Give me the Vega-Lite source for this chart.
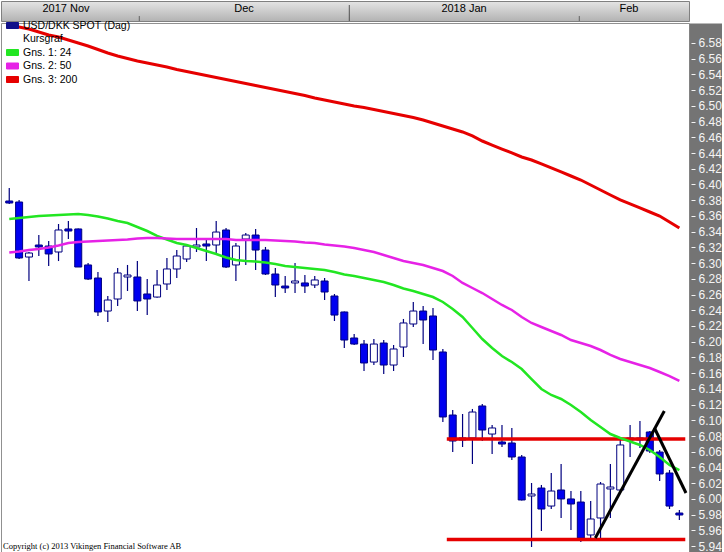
{
  "$schema": "https://vega.github.io/schema/vega-lite/v6.json",
  "padding": 0,
  "background": "#ffffff",
  "spacing": 0,
  "config": {
    "font": "Liberation Sans",
    "view": {"stroke": null}
  },
  "datasets": {
    "candles": [
      {"i":0,"date":"2017-11-13","open":6.3790,"high":6.3955,"low":6.3752,"close":6.3764,"ma24":6.3561,"ma50":6.3135,"ma200":6.6042},
      {"i":1,"date":"2017-11-14","open":6.3777,"high":6.3803,"low":6.3052,"close":6.3065,"ma24":6.3574,"ma50":6.3147,"ma200":6.6004},
      {"i":2,"date":"2017-11-15","open":6.3077,"high":6.3141,"low":6.2772,"close":6.3128,"ma24":6.3586,"ma50":6.3166,"ma200":6.5978},
      {"i":3,"date":"2017-11-16","open":6.3230,"high":6.3357,"low":6.3090,"close":6.3205,"ma24":6.3599,"ma50":6.3179,"ma200":6.5940},
      {"i":4,"date":"2017-11-17","open":6.3217,"high":6.3281,"low":6.2963,"close":6.3116,"ma24":6.3605,"ma50":6.3198,"ma200":6.5902},
      {"i":5,"date":"2017-11-20","open":6.3141,"high":6.3497,"low":6.3026,"close":6.3421,"ma24":6.3612,"ma50":6.3224,"ma200":6.5876},
      {"i":6,"date":"2017-11-21","open":6.3434,"high":6.3535,"low":6.3306,"close":6.3408,"ma24":6.3618,"ma50":6.3256,"ma200":6.5838},
      {"i":7,"date":"2017-11-22","open":6.3434,"high":6.3440,"low":6.2950,"close":6.2950,"ma24":6.3624,"ma50":6.3268,"ma200":6.5800},
      {"i":8,"date":"2017-11-23","open":6.2976,"high":6.3001,"low":6.2785,"close":6.2797,"ma24":6.3612,"ma50":6.3275,"ma200":6.5762},
      {"i":9,"date":"2017-11-24","open":6.2810,"high":6.2887,"low":6.2327,"close":6.2378,"ma24":6.3593,"ma50":6.3281,"ma200":6.5717},
      {"i":10,"date":"2017-11-27","open":6.2390,"high":6.2581,"low":6.2250,"close":6.2530,"ma24":6.3567,"ma50":6.3287,"ma200":6.5673},
      {"i":11,"date":"2017-11-28","open":6.2543,"high":6.2937,"low":6.2454,"close":6.2874,"ma24":6.3535,"ma50":6.3294,"ma200":6.5635},
      {"i":12,"date":"2017-11-29","open":6.2823,"high":6.2976,"low":6.2645,"close":6.2848,"ma24":6.3510,"ma50":6.3300,"ma200":6.5603},
      {"i":13,"date":"2017-11-30","open":6.2823,"high":6.3026,"low":6.2390,"close":6.2518,"ma24":6.3459,"ma50":6.3313,"ma200":6.5571},
      {"i":14,"date":"2017-12-01","open":6.2607,"high":6.2797,"low":6.2339,"close":6.2543,"ma24":6.3408,"ma50":6.3319,"ma200":6.5546},
      {"i":15,"date":"2017-12-04","open":6.2568,"high":6.2912,"low":6.2560,"close":6.2721,"ma24":6.3345,"ma50":6.3319,"ma200":6.5520},
      {"i":16,"date":"2017-12-05","open":6.2734,"high":6.3065,"low":6.2657,"close":6.2925,"ma24":6.3300,"ma50":6.3313,"ma200":6.5495},
      {"i":17,"date":"2017-12-06","open":6.2925,"high":6.3166,"low":6.2810,"close":6.3090,"ma24":6.3256,"ma50":6.3306,"ma200":6.5463},
      {"i":18,"date":"2017-12-07","open":6.3052,"high":6.3225,"low":6.3014,"close":6.3217,"ma24":6.3230,"ma50":6.3306,"ma200":6.5437},
      {"i":19,"date":"2017-12-08","open":6.3205,"high":6.3446,"low":6.3141,"close":6.3230,"ma24":6.3192,"ma50":6.3306,"ma200":6.5412},
      {"i":20,"date":"2017-12-11","open":6.3243,"high":6.3294,"low":6.3026,"close":6.3217,"ma24":6.3154,"ma50":6.3306,"ma200":6.5387},
      {"i":21,"date":"2017-12-12","open":6.3230,"high":6.3535,"low":6.3128,"close":6.3395,"ma24":6.3116,"ma50":6.3306,"ma200":6.5361},
      {"i":22,"date":"2017-12-13","open":6.3421,"high":6.3446,"low":6.2937,"close":6.2950,"ma24":6.3071,"ma50":6.3306,"ma200":6.5336},
      {"i":23,"date":"2017-12-14","open":6.2976,"high":6.3256,"low":6.2772,"close":6.3217,"ma24":6.3039,"ma50":6.3294,"ma200":6.5310},
      {"i":24,"date":"2017-12-15","open":6.3306,"high":6.3383,"low":6.2976,"close":6.3357,"ma24":6.3026,"ma50":6.3294,"ma200":6.5285},
      {"i":25,"date":"2017-12-18","open":6.3357,"high":6.3434,"low":6.2912,"close":6.3166,"ma24":6.3020,"ma50":6.3294,"ma200":6.5259},
      {"i":26,"date":"2017-12-19","open":6.3166,"high":6.3205,"low":6.2848,"close":6.2861,"ma24":6.3007,"ma50":6.3294,"ma200":6.5234},
      {"i":27,"date":"2017-12-20","open":6.2861,"high":6.2937,"low":6.2568,"close":6.2721,"ma24":6.2988,"ma50":6.3287,"ma200":6.5208},
      {"i":28,"date":"2017-12-21","open":6.2708,"high":6.2836,"low":6.2619,"close":6.2683,"ma24":6.2963,"ma50":6.3281,"ma200":6.5183},
      {"i":29,"date":"2017-12-22","open":6.2747,"high":6.3001,"low":6.2619,"close":6.2772,"ma24":6.2950,"ma50":6.3275,"ma200":6.5158},
      {"i":30,"date":"2017-12-25","open":6.2747,"high":6.2848,"low":6.2619,"close":6.2708,"ma24":6.2937,"ma50":6.3262,"ma200":6.5132},
      {"i":31,"date":"2017-12-26","open":6.2721,"high":6.2836,"low":6.2683,"close":6.2785,"ma24":6.2925,"ma50":6.3256,"ma200":6.5100},
      {"i":32,"date":"2017-12-27","open":6.2772,"high":6.2810,"low":6.2530,"close":6.2632,"ma24":6.2912,"ma50":6.3236,"ma200":6.5075},
      {"i":33,"date":"2017-12-28","open":6.2581,"high":6.2607,"low":6.2263,"close":6.2339,"ma24":6.2887,"ma50":6.3224,"ma200":6.5049},
      {"i":34,"date":"2017-12-29","open":6.2378,"high":6.2385,"low":6.1920,"close":6.2021,"ma24":6.2855,"ma50":6.3211,"ma200":6.5024},
      {"i":35,"date":"2018-01-01","open":6.2047,"high":6.2098,"low":6.1958,"close":6.1970,"ma24":6.2836,"ma50":6.3192,"ma200":6.4998},
      {"i":36,"date":"2018-01-02","open":6.1970,"high":6.2021,"low":6.1627,"close":6.1729,"ma24":6.2810,"ma50":6.3166,"ma200":6.4979},
      {"i":37,"date":"2018-01-03","open":6.1741,"high":6.2034,"low":6.1703,"close":6.1970,"ma24":6.2785,"ma50":6.3141,"ma200":6.4954},
      {"i":38,"date":"2018-01-04","open":6.1983,"high":6.2021,"low":6.1589,"close":6.1703,"ma24":6.2759,"ma50":6.3103,"ma200":6.4928},
      {"i":39,"date":"2018-01-05","open":6.1703,"high":6.1958,"low":6.1627,"close":6.1907,"ma24":6.2721,"ma50":6.3065,"ma200":6.4903},
      {"i":40,"date":"2018-01-08","open":6.1932,"high":6.2289,"low":6.1805,"close":6.2238,"ma24":6.2677,"ma50":6.3026,"ma200":6.4878},
      {"i":41,"date":"2018-01-09","open":6.2225,"high":6.2505,"low":6.2187,"close":6.2390,"ma24":6.2645,"ma50":6.3001,"ma200":6.4852},
      {"i":42,"date":"2018-01-10","open":6.2390,"high":6.2454,"low":6.1970,"close":6.2276,"ma24":6.2607,"ma50":6.2976,"ma200":6.4820},
      {"i":43,"date":"2018-01-11","open":6.2327,"high":6.2428,"low":6.1767,"close":6.1894,"ma24":6.2568,"ma50":6.2937,"ma200":6.4782},
      {"i":44,"date":"2018-01-12","open":6.1869,"high":6.1907,"low":6.0978,"close":6.1042,"ma24":6.2505,"ma50":6.2899,"ma200":6.4744},
      {"i":45,"date":"2018-01-15","open":6.1067,"high":6.1131,"low":6.0596,"close":6.0736,"ma24":6.2416,"ma50":6.2836,"ma200":6.4706},
      {"i":46,"date":"2018-01-16","open":6.0749,"high":6.1080,"low":6.0660,"close":6.0775,"ma24":6.2314,"ma50":6.2747,"ma200":6.4668},
      {"i":47,"date":"2018-01-17","open":6.0775,"high":6.1144,"low":6.0444,"close":6.1105,"ma24":6.2174,"ma50":6.2683,"ma200":6.4617},
      {"i":48,"date":"2018-01-18","open":6.1182,"high":6.1207,"low":6.0736,"close":6.0876,"ma24":6.2034,"ma50":6.2619,"ma200":6.4553},
      {"i":49,"date":"2018-01-19","open":6.0825,"high":6.0940,"low":6.0571,"close":6.0902,"ma24":6.1920,"ma50":6.2543,"ma200":6.4502},
      {"i":50,"date":"2018-01-22","open":6.0724,"high":6.0940,"low":6.0660,"close":6.0698,"ma24":6.1818,"ma50":6.2467,"ma200":6.4451},
      {"i":51,"date":"2018-01-23","open":6.0711,"high":6.0902,"low":6.0495,"close":6.0533,"ma24":6.1741,"ma50":6.2403,"ma200":6.4401},
      {"i":52,"date":"2018-01-24","open":6.0533,"high":6.0558,"low":5.9980,"close":5.9986,"ma24":6.1652,"ma50":6.2314,"ma200":6.4350},
      {"i":53,"date":"2018-01-25","open":6.0037,"high":6.0202,"low":5.9388,"close":6.0062,"ma24":6.1525,"ma50":6.2238,"ma200":6.4311},
      {"i":54,"date":"2018-01-26","open":6.0138,"high":6.0177,"low":5.9591,"close":5.9871,"ma24":6.1398,"ma50":6.2187,"ma200":6.4261},
      {"i":55,"date":"2018-01-29","open":5.9909,"high":6.0329,"low":5.9871,"close":6.0100,"ma24":6.1322,"ma50":6.2136,"ma200":6.4210},
      {"i":56,"date":"2018-01-30","open":6.0113,"high":6.0444,"low":5.9757,"close":5.9999,"ma24":6.1271,"ma50":6.2085,"ma200":6.4159},
      {"i":57,"date":"2018-01-31","open":5.9999,"high":6.0100,"low":5.9604,"close":5.9935,"ma24":6.1194,"ma50":6.2021,"ma200":6.4108},
      {"i":58,"date":"2018-02-01","open":5.9960,"high":6.0100,"low":5.9451,"close":5.9502,"ma24":6.1105,"ma50":6.1983,"ma200":6.4057},
      {"i":59,"date":"2018-02-02","open":5.9541,"high":5.9973,"low":5.9502,"close":5.9744,"ma24":6.1004,"ma50":6.1945,"ma200":6.3993},
      {"i":60,"date":"2018-02-05","open":5.9757,"high":6.0215,"low":5.9502,"close":6.0189,"ma24":6.0914,"ma50":6.1894,"ma200":6.3930},
      {"i":61,"date":"2018-02-06","open":6.0126,"high":6.0444,"low":5.9757,"close":6.0151,"ma24":6.0825,"ma50":6.1831,"ma200":6.3866},
      {"i":62,"date":"2018-02-07","open":6.0113,"high":6.0762,"low":6.0105,"close":6.0686,"ma24":6.0775,"ma50":6.1780,"ma200":6.3803},
      {"i":63,"date":"2018-02-08","open":6.0749,"high":6.0940,"low":6.0533,"close":6.0775,"ma24":6.0730,"ma50":6.1741,"ma200":6.3752},
      {"i":64,"date":"2018-02-09","open":6.0749,"high":6.0991,"low":6.0647,"close":6.0775,"ma24":6.0686,"ma50":6.1703,"ma200":6.3701},
      {"i":65,"date":"2018-02-12","open":6.0851,"high":6.0864,"low":6.0584,"close":6.0609,"ma24":6.0622,"ma50":6.1665,"ma200":6.3650},
      {"i":66,"date":"2018-02-13","open":6.0596,"high":6.0622,"low":6.0228,"close":6.0317,"ma24":6.0533,"ma50":6.1614,"ma200":6.3599},
      {"i":67,"date":"2018-02-14","open":6.0329,"high":6.0367,"low":5.9871,"close":5.9909,"ma24":6.0431,"ma50":6.1563,"ma200":6.3523},
      {"i":68,"date":"2018-02-15","open":5.9820,"high":5.9859,"low":5.9731,"close":5.9795,"ma24":6.0367,"ma50":6.1500,"ma200":6.3446}
    ],
    "levels": [
      {"start": 44.4, "end": 68.6, "v": 6.0762},
      {"start": 44.4, "end": 68.6, "v": 5.9483}
    ],
    "trend": [
      {"line": "a", "i": 59.47, "v": 5.9502},
      {"line": "a", "i": 66.47, "v": 6.1118},
      {"line": "b", "i": 65.47, "v": 6.0902},
      {"line": "b", "i": 68.67, "v": 6.0075}
    ],
    "months": [
      {"label": "2017 Nov", "i": 6.17},
      {"label": "Dec", "i": 23.97},
      {"label": "2018 Jan", "i": 45.97},
      {"label": "Feb", "i": 62.47}
    ],
    "seps": [
      {"i": 13.5, "kind": "month"},
      {"i": 34.5, "kind": "year"},
      {"i": 57.5, "kind": "month"}
    ]
  },
  "vconcat": [
    {
      "width": 688,
      "height": 20,
      "view": {
        "fill": {"gradient": "linear", "x1": 0, "y1": 0, "x2": 0, "y2": 1,
                 "stops": [{"offset": 0, "color": "#e4e4e4"}, {"offset": 1, "color": "#b2b2b2"}]},
        "stroke": "#808080"
      },
      "encoding": {
        "x": {"field": "i", "type": "quantitative", "scale": {"domain": [-0.33, 68.47], "nice": false, "zero": false}, "axis": null}
      },
      "layer": [
        {
          "data": {"name": "months"},
          "mark": {"type": "text", "fontSize": 11, "font": "Liberation Sans", "color": "#000000", "baseline": "middle", "dy": -2},
          "encoding": {"text": {"field": "label"}}
        },
        {
          "data": {"name": "seps"},
          "transform": [{"filter": "datum.kind === 'month'"}],
          "mark": {"type": "tick", "orient": "vertical", "size": 5, "thickness": 1, "color": "#404040", "yOffset": 7.5}
        },
        {
          "data": {"name": "seps"},
          "transform": [{"filter": "datum.kind === 'year'"}],
          "mark": {"type": "tick", "orient": "vertical", "size": 16, "thickness": 1, "color": "#202020", "yOffset": 2}
        }
      ]
    },
    {
      "width": 688,
      "height": 532,
      "view": {"fill": "white", "stroke": "#909090"},
      "title": {"text": "Copyright (c) 2013 Vikingen Financial Software AB", "orient": "bottom", "anchor": "start", "offset": -6, "fontSize": 8.5, "font": "Liberation Serif", "fontWeight": "normal", "color": "#000000", "baseline": "alphabetic", "dx": 2},
      "resolve": {"scale": {"y": "shared"}, "axis": {"y": "independent"}},
      "encoding": {
        "x": {"field": "i", "type": "quantitative", "scale": {"domain": [-0.33, 68.47], "nice": false, "zero": false}, "axis": null}
      },
      "layer": [
        {
          "data": {"name": "candles"},
          "mark": {"type": "rule", "color": "#00007f", "strokeWidth": 1.2, "clip": true},
          "encoding": {
            "y": {"field": "low", "type": "quantitative", "title": null,
                  "scale": {"domain": [5.928601, 6.605445], "nice": false, "zero": false},
                  "axis": {"orient": "right", "title": null, "labels": false, "ticks": false, "grid": false,
                           "domain": true, "domainColor": "#747474", "domainWidth": 36, "domainCap": "butt", "offset": 18, "zindex": 0}},
            "y2": {"field": "high"}
          }
        },
        {
          "data": {"name": "candles"},
          "mark": {"type": "bar", "width": 7, "stroke": "#00007f", "strokeWidth": 1, "clip": true},
          "encoding": {
            "y": {"field": "open", "type": "quantitative", "title": null,
                  "axis": {"orient": "right", "values": [5.94,5.96,5.98,6.00,6.02,6.04,6.06,6.08,6.10,6.12,6.14,6.16,6.18,6.20,6.22,6.24,6.26,6.28,6.30,6.32,6.34,6.36,6.38,6.40,6.42,6.44,6.46,6.48,6.50,6.52,6.54,6.56,6.58],
                           "format": ".2f", "title": null, "labelOverlap": false, "labelSeparation": 0, "labelBound": false, "labelFlush": false,
                           "domain": false, "grid": false, "ticks": true, "tickSize": 4, "tickColor": "#f4f4f4", "tickWidth": 1, "offset": 2, "labelPadding": 3,
                           "labelColor": "#f4f4f4", "labelFont": "Liberation Sans", "labelFontSize": 12, "labelBaseline": "middle", "zindex": 1}},
            "y2": {"field": "close"},
            "fill": {"condition": {"test": "datum.close < datum.open", "value": "#0000f0"}, "value": "#ffffff"}
          }
        },
        {
          "data": {"name": "levels"},
          "mark": {"type": "rule", "color": "#e60000", "strokeWidth": 3.5, "clip": true},
          "encoding": {
            "x": {"field": "start", "type": "quantitative"},
            "x2": {"field": "end"},
            "y": {"field": "v", "type": "quantitative", "axis": null}
          }
        },
        {
          "data": {"name": "candles"},
          "mark": {"type": "line", "strokeWidth": 2.5, "clip": true},
          "encoding": {
            "y": {"field": "ma24", "type": "quantitative", "axis": null},
            "color": {"datum": "Gns. 1: 24", "type": "nominal",
                      "scale": {"domain": ["USD/DKK SPOT (Dag)", "Kursgraf", "Gns. 1: 24", "Gns. 2: 50", "Gns. 3: 200"],
                                "range": ["#10108a", "transparent", "#22e622", "#e622e6", "#e60000"]},
                      "legend": {"orient": "none", "legendX": 5, "legendY": 18, "title": null, "padding": 0,
                                 "symbolType": "M-1,-0.5H1V0.5H-1Z", "symbolSize": 144, "labelOffset": 4,
                                 "labelFont": "Liberation Sans", "labelFontSize": 10.5, "labelColor": "#000000", "rowPadding": 1.5,
                                 "encode": {"symbols": {"update": {
                                   "fill": {"scale": "color", "field": "value"},
                                   "stroke": {"signal": "datum.value === 'Kursgraf' ? 'transparent' : '#000000'"},
                                   "strokeWidth": {"value": 1},
                                   "opacity": {"value": 1}}}}}}
          }
        },
        {
          "data": {"name": "candles"},
          "mark": {"type": "line", "strokeWidth": 2.5, "clip": true},
          "encoding": {
            "y": {"field": "ma50", "type": "quantitative", "axis": null},
            "color": {"datum": "Gns. 2: 50", "type": "nominal"}
          }
        },
        {
          "data": {"name": "candles"},
          "mark": {"type": "line", "strokeWidth": 3, "clip": true},
          "encoding": {
            "y": {"field": "ma200", "type": "quantitative", "axis": null},
            "color": {"datum": "Gns. 3: 200", "type": "nominal"}
          }
        },
        {
          "data": {"name": "trend"},
          "mark": {"type": "line", "color": "#000000", "strokeWidth": 3, "clip": true},
          "encoding": {
            "x": {"field": "i", "type": "quantitative"},
            "y": {"field": "v", "type": "quantitative", "axis": null},
            "detail": {"field": "line"}
          }
        }
      ]
    }
  ]
}
